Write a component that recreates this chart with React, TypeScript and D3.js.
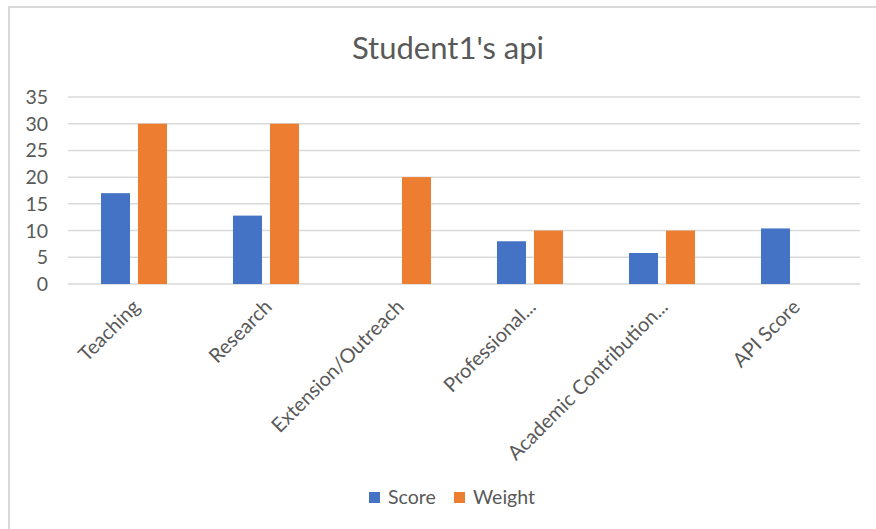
import React from "react";
import * as d3 from "d3";

const categories = [
  "Teaching",
  "Research",
  "Extension/Outreach",
  "Professional...",
  "Academic Contribution...",
  "API Score",
];
const scoreValues: (number | null)[] = [17, 12.8, null, 8, 5.8, 10.4];
const weightValues: (number | null)[] = [30, 30, 20, 10, 10, null];
const yTicks = [0, 5, 10, 15, 20, 25, 30, 35];
const seriesNames = ["Score", "Weight"];
const seriesColors = ["#4472C4", "#ED7D31"];

const W = 876;
const H = 529;
const FONT = "Lato, 'Open Sans', sans-serif";
const TEXT = "#595959";

export default function App() {
  const plotLeft = 68;
  const plotRight = 860;
  const plotTop = 97;
  const plotBottom = 284;

  const x0 = d3
    .scaleBand<string>()
    .domain(categories)
    .range([plotLeft, plotRight])
    .paddingInner(0.5)
    .paddingOuter(0.25);
  const x1 = d3
    .scaleBand<string>()
    .domain(seriesNames)
    .range([0, x0.bandwidth()])
    .paddingInner(0.216);
  const y = d3.scaleLinear().domain([0, 35]).range([plotBottom, plotTop]);

  const series = [scoreValues, weightValues];

  return (
    <svg
      width={W}
      height={H}
      style={{ position: "absolute", left: 0, top: 0, background: "#fff" }}
      fontFamily={FONT}
    >
      <rect x={0} y={0} width={W} height={H} fill="#fff" />
      <rect
        x={9}
        y={7}
        width={W + 20}
        height={H + 20}
        fill="#fff"
        stroke="#d9d9d9"
        strokeWidth={2}
      />
      <text x={448} y={59} textAnchor="middle" fontSize={31} fill={TEXT}>
        Student1's api
      </text>

      {yTicks.map((t) => (
        <g key={t}>
          <line
            x1={plotLeft}
            x2={plotRight}
            y1={y(t)}
            y2={y(t)}
            stroke="#d9d9d9"
            strokeWidth={1.5}
          />
          <text
            x={48}
            y={y(t)}
            dy="0.36em"
            textAnchor="end"
            fontSize={19.5}
            fill={TEXT}
          >
            {t}
          </text>
        </g>
      ))}

      {series.map((vals, si) =>
        vals.map((v, ci) =>
          v == null ? null : (
            <rect
              key={`${si}-${ci}`}
              x={(x0(categories[ci]) ?? 0) + (x1(seriesNames[si]) ?? 0)}
              y={y(v)}
              width={x1.bandwidth()}
              height={y(0) - y(v)}
              fill={seriesColors[si]}
            />
          )
        )
      )}

      {categories.map((c) => {
        const cx = (x0(c) ?? 0) + x0.bandwidth() / 2 - 3;
        const cy = 298;
        return (
          <text
            key={c}
            transform={`translate(${cx},${cy}) rotate(-45)`}
            textAnchor="end"
            dy="0.72em"
            fontSize={20}
            fill={TEXT}
          >
            {c}
          </text>
        );
      })}

      {seriesNames.map((s, i) => {
        const lx = i === 0 ? 369 : 454;
        return (
          <g key={s}>
            <rect x={lx} y={492} width={11} height={11} fill={seriesColors[i]} />
            <text x={lx + 19} y={504} fontSize={19.5} fill={TEXT}>
              {s}
            </text>
          </g>
        );
      })}
    </svg>
  );
}
